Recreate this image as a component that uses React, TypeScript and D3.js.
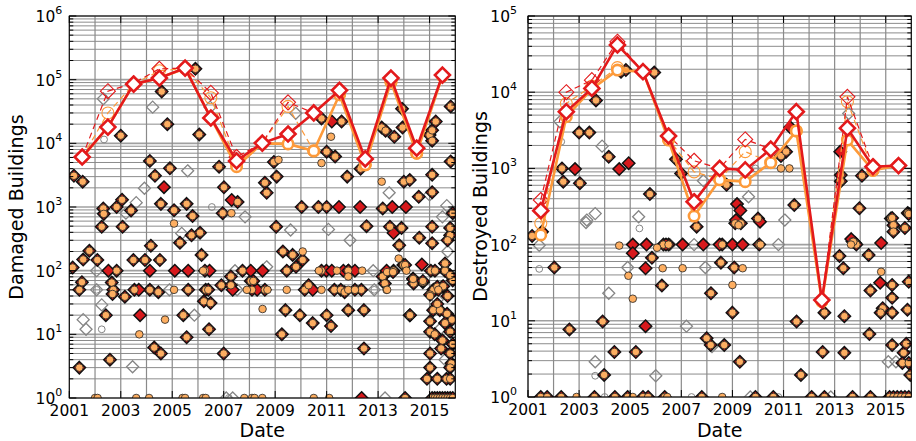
import React from 'react';
import * as d3 from 'd3';

// --- shared ---
const lineYears = [2001.5, 2002.5, 2003.5, 2004.5, 2005.5, 2006.5, 2007.5, 2008.5, 2009.5, 2010.5, 2011.5, 2012.5, 2013.5, 2014.5, 2015.5];
const xLabelYears = [2001, 2003, 2005, 2007, 2009, 2011, 2013, 2015];

// --- damaged buildings (left) ---
const damagedRedLine = [6100, 18000, 85000, 106000, 152000, 25000, 5300, 10100, 14000, 30000, 68000, 5700, 106000, 8400, 118000];
const damagedOrangeLine = [6000, 18000, 85000, 106000, 150000, 25000, 4300, 10000, 9800, 7600, 58000, 4600, 92000, 7000, 115000];
const damagedRedDash = [6100, 66000, 88000, 148000, 152000, 62000, 6100, 10100, 44000, 30000, 68000, 5700, 106000, 8400, 118000];
const damagedOrangeDash = [6000, 30000, 85000, 138000, 150000, 52000, 4800, 10000, 38000, 7600, 58000, 4600, 92000, 7000, 115000];

const damagedBoth = [
  [2001.18, 3100], [2001.52, 2500], [2002.32, 950], [2002.34, 780], [2002.84, 1000], [2003.0, 13200], [2003.05, 1300], [2003.4, 880],
  [2004.13, 5300], [2004.33, 3100], [2004.59, 65000], [2004.56, 1120], [2004.81, 20000], [2004.91, 4050], [2005.07, 890], [2005.56, 1120],
  [2005.9, 148000], [2006.05, 13800], [2005.79, 720], [2006.82, 4300], [2007.01, 2040], [2007.54, 1200], [2006.96, 800], [2008.6, 2400],
  [2008.67, 1670], [2008.95, 5100], [2009.06, 3000], [2010.03, 1000], [2010.68, 1000], [2010.8, 24600], [2011.0, 7400], [2011.0, 1000],
  [2011.33, 6200], [2011.58, 22000], [2011.8, 3000], [2012.32, 4000], [2013.18, 950], [2013.14, 17700], [2013.29, 15800], [2013.63, 12700],
  [2013.93, 35000], [2013.95, 17700], [2014.0, 2500], [2014.23, 2650], [2014.58, 1450], [2015.1, 3200], [2015.1, 1700], [2015.0, 13500],
  [2015.1, 16000], [2015.1, 11000], [2015.24, 22000], [2015.82, 38000], [2015.82, 5200], [2015.9, 800],
  [2001.13, 112], [2001.39, 50], [2001.49, 66], [2001.39, 3], [2001.54, 150], [2001.78, 205], [2002.09, 147], [2002.26, 490],
  [2002.42, 20], [2002.58, 4], [2002.65, 65], [2002.71, 50], [2002.84, 100], [2002.68, 43], [2003.07, 490], [2003.16, 39],
  [2003.49, 147], [2003.53, 50], [2003.94, 147], [2004.17, 247], [2004.13, 50], [2004.3, 6.2], [2004.56, 5], [2004.52, 147],
  [2004.46, 46], [2005.3, 275], [2005.43, 20], [2005.56, 9], [2005.62, 50], [2005.75, 360], [2006.08, 395], [2006.14, 177],
  [2006.23, 33], [2006.27, 100], [2006.3, 50], [2006.43, 12], [2006.49, 31], [2006.4, 50], [2006.91, 59], [2007.0, 5],
  [2007.28, 81], [2007.28, 59], [2007.73, 100], [2008.05, 69], [2008.15, 69], [2008.1, 50], [2008.6, 50], [2009.04, 490],
  [2009.26, 10], [2009.3, 200], [2009.4, 24], [2009.45, 100], [2009.68, 177], [2009.81, 115], [2009.96, 20], [2010.07, 147],
  [2010.15, 50], [2010.3, 59], [2010.46, 15], [2010.8, 100], [2011.0, 20], [2011.17, 13.5], [2011.3, 50], [2011.55, 50],
  [2011.7, 46], [2011.84, 24], [2011.84, 100], [2012.1, 50], [2012.35, 50], [2012.45, 6], [2012.45, 24], [2012.55, 500],
  [2013.18, 81], [2013.26, 63], [2013.46, 490], [2013.6, 100], [2013.91, 470], [2013.82, 250], [2013.98, 123], [2014.23, 20],
  [2014.36, 75], [2014.38, 63], [2014.6, 330], [2014.74, 66], [2015.1, 270], [2015.1, 490], [2015.05, 100], [2015.15, 50],
  [2015.3, 56], [2015.5, 56], [2015.6, 100], [2015.6, 130], [2015.8, 470], [2015.8, 360], [2015.7, 300], [2015.9, 70],
  [2015.02, 42], [2015.14, 24], [2015.4, 24], [2015.68, 21], [2015.87, 17], [2015.02, 16], [2015.02, 11], [2015.2, 10],
  [2015.8, 11], [2015.02, 5], [2015.8, 5], [2015.85, 3.5], [2015.02, 3], [2015.8, 3], [2014.9, 2], [2015.3, 2],
  [2015.66, 2], [2015.8, 2], [2015.21, 100], [2015.8, 85], [2015.53, 57], [2015.34, 50], [2014.05, 123], [2013.35, 95],
  [2013.58, 95], [2014.36, 74], [2014.74, 69], [2014.24, 20], [2015.5, 8], [2015.6, 15], [2015.3, 30], [2015.7, 40],
  [2015.45, 6], [2015.9, 7], [2015.1, 1], [2015.2, 1], [2015.3, 1], [2015.4, 1], [2015.5, 1], [2015.6, 1], [2015.7, 1],
  [2015.8, 1], [2015.9, 1], [2014.05, 1],
];
const damagedRedOnly = [
  [2004.68, 2050], [2007.31, 1290], [2011.2, 22000], [2011.48, 1000], [2012.3, 1000], [2013.55, 1000], [2014.08, 1000],
  [2002.52, 100], [2003.75, 20], [2003.7, 50], [2004.13, 100], [2005.1, 100], [2005.62, 100], [2006.45, 100], [2007.35, 50],
  [2008.05, 100], [2008.3, 50], [2008.51, 100], [2010.46, 50], [2010.99, 100], [2011.2, 100], [2011.65, 100], [2011.85, 100],
  [2012.1, 100], [2013.33, 100], [2013.6, 390], [2014.7, 125], [2012.36, 1],
];
const damagedOrangeOnly = [
  [2009.13, 5500], [2010.8, 4900], [2011.17, 12700], [2013.14, 2500], [2007.3, 800], [2003.72, 10], [2004.72, 17], [2005.07, 550],
  [2005.07, 50], [2007.9, 50], [2008.51, 25], [2009.45, 50], [2010.07, 200], [2010.8, 50], [2011.4, 100], [2011.84, 81],
  [2011.84, 50], [2012.1, 50], [2012.38, 100], [2013.33, 50], [2013.8, 155], [2014.1, 100], [2015.02, 40], [2013.35, 50],
  [2002.0, 1], [2002.1, 1], [2003.6, 1], [2004.1, 1], [2005.4, 1], [2005.5, 1], [2006.2, 1], [2006.3, 1], [2007.8, 1],
  [2008.1, 1], [2008.2, 1], [2008.5, 1], [2010.5, 1], [2011.1, 1], [2006.2, 100], [2008.7, 50], [2010.7, 100],
];
const damagedGrayDiamond = [
  [2002.32, 50000], [2004.24, 37000], [2005.6, 3700], [2006.47, 37000], [2009.8, 29600], [2003.2, 800], [2003.6, 1170],
  [2003.92, 1970], [2007.83, 700], [2013.43, 1670], [2015.0, 1550], [2015.67, 1050], [2015.5, 700], [2002.06, 100],
  [2001.54, 17], [2001.65, 12], [2002.26, 29], [2003.46, 3.1], [2004.89, 50], [2005.37, 385], [2005.86, 20], [2007.44, 100],
  [2007.52, 50], [2008.67, 115], [2009.6, 435], [2011.07, 445], [2011.91, 300], [2012.81, 100], [2013.27, 1], [2015.3, 35],
  [2015.7, 200], [2015.5, 8], [2015.6, 4], [2015.4, 12], [2007.1, 1], [2007.35, 1], [2002.06, 50], [2012.85, 50],
];
const damagedGrayCircle = [
  [2002.35, 11500], [2006.54, 1000], [2002.06, 50], [2002.26, 12], [2012.85, 50], [2007.2, 1],
];

// --- destroyed buildings (right) ---
const destroyedRedLine = [279, 5560, 11200, 41700, 18600, 2660, 365, 1000, 955, 1790, 5560, 18.7, 3370, 1050, 1090];
const destroyedOrangeLine = [134, 4770, 11000, 19500, 18600, 2350, 237, 707, 670, 1190, 3100, 18, 2350, 940, 1090];
const destroyedRedDash = [385, 10000, 14400, 46000, 18600, 2700, 1260, 1000, 2400, 1800, 5560, 18.7, 8700, 1050, 1090];
const destroyedOrangeDash = [190, 7100, 12000, 21000, 18600, 2400, 900, 720, 1660, 1200, 3100, 18, 7500, 950, 1090];

const destroyedBoth = [
  [2002.33, 1000], [2002.38, 670], [2003.0, 2950], [2003.4, 2950], [2003.03, 640], [2003.66, 7800], [2004.16, 1420],
  [2004.64, 18600], [2004.83, 19500], [2005.94, 18100], [2005.77, 460], [2006.79, 1320], [2006.99, 860], [2008.77, 610],
  [2010.0, 220], [2010.9, 1450], [2011.1, 1660], [2011.42, 330], [2013.24, 820], [2013.24, 680], [2014.07, 800],
  [2013.97, 300], [2015.2, 220], [2015.86, 260], [2015.25, 224], [2015.9, 252], [2015.3, 180], [2015.3, 148], [2015.75, 165],
  [2013.7, 110], [2013.8, 105], [2013.85, 100],
  [2001.16, 130], [2002.03, 50], [2002.62, 7.7], [2003.92, 9.8], [2003.98, 1.95], [2004.38, 3.9], [2005.22, 3.9],
  [2005.85, 67], [2006.24, 29], [2006.3, 100], [2006.5, 100], [2007.6, 172], [2008.16, 23], [2007.99, 5.9], [2008.15, 4.8],
  [2008.68, 4.8], [2008.6, 100], [2008.55, 58], [2009.07, 50], [2009.0, 12.8], [2009.11, 190], [2009.33, 190],
  [2009.29, 2.9], [2010.05, 100], [2011.51, 9.8], [2011.68, 1.95], [2012.6, 12.8], [2012.53, 3.9], [2013.19, 71],
  [2013.34, 49], [2013.38, 11.5], [2013.38, 3.8], [2014.33, 73], [2014.4, 25], [2014.36, 6.7], [2014.88, 14.6],
  [2014.8, 12.8], [2015.25, 29.5], [2015.25, 20], [2015.25, 12.8], [2015.25, 4.8], [2015.9, 32.5], [2015.85, 14],
  [2015.7, 3.8], [2015.65, 2.8], [2015.8, 5], [2015.9, 2.8], [2015.96, 1.95],
  [2001.5, 1], [2001.75, 1], [2002.3, 1], [2003.6, 1], [2004.4, 1], [2004.9, 1], [2005.5, 1], [2005.7, 1], [2006.35, 1],
  [2007.8, 1], [2009.9, 1], [2010.6, 1], [2012.1, 1], [2012.6, 1], [2013.7, 1], [2014.4, 1], [2015.15, 1], [2015.3, 1],
  [2015.45, 1], [2015.6, 1], [2015.75, 1], [2015.9, 1],
];
const destroyedRedOnly = [
  [2002.84, 980], [2004.57, 980], [2004.94, 1170], [2009.18, 340], [2009.31, 280], [2011.26, 3470], [2013.22, 1660],
  [2009.14, 210], [2010.08, 200], [2001.55, 148], [2005.1, 100], [2005.1, 77], [2005.6, 49], [2005.6, 8.5], [2005.64, 100],
  [2006.4, 100], [2007.05, 100], [2007.86, 100], [2008.5, 100], [2009.0, 100], [2009.4, 100], [2013.65, 118],
  [2014.82, 105], [2014.78, 31.5],
];
const destroyedOrangeOnly = [
  [2010.9, 1000], [2011.23, 1000], [2004.57, 97], [2004.93, 39], [2005.1, 19.5], [2006.05, 91], [2006.27, 49], [2007.05, 49],
  [2009.0, 29.5], [2009.24, 180], [2009.4, 49], [2010.1, 100], [2013.73, 109], [2013.64, 100], [2014.82, 44],
  [2002.9, 1], [2005.1, 1], [2006.45, 1], [2008.6, 1],
];
const destroyedGrayDiamond = [
  [2002.25, 4100], [2003.9, 1960], [2007.86, 690], [2009.63, 425], [2013.55, 5250], [2005.33, 232], [2003.63, 255],
  [2003.3, 210], [2001.44, 98], [2003.27, 195], [2003.63, 2.9], [2004.16, 23], [2004.9, 50], [2006.0, 1.9], [2006.55, 100],
  [2007.5, 100], [2007.2, 8.5], [2007.94, 50], [2008.2, 4.6], [2010.8, 100], [2015.1, 2.9], [2015.4, 2.9], [2012.85, 1],
  [2009.7, 1], [2011.05, 210],
];
const destroyedGrayCircle = [
  [2002.3, 2240], [2009.9, 1000], [2001.44, 48], [2003.63, 1.9], [2005.36, 163], [2004.0, 1], [2007.4, 1], [2010.8, 1],
];

const RED = '#e31a1c';
const RED_FILL = '#d7191c';
const ORANGE_FILL = '#fdae61';
const ORANGE_LINE = '#fd9a3a';
const GRAY = '#858585';
const FONT = 'DejaVu Sans, sans-serif';

const diamond = (s) => `M0,${-s}L${s},0L0,${s}L${-s},0Z`;

function Panel(props) {
  const { id, x0, x1, y0, y1, maxExp, yLabel, labelX, tickPad, data } = props;
  const x = d3.scaleLinear().domain([2001, 2016]).range([x0, x1]);
  const y = d3.scaleLog().domain([1, Math.pow(10, maxExp)]).range([y1, y0]);

  const yTicks = y.ticks();
  const isMajor = (v) => Math.abs(Math.log10(v) - Math.round(Math.log10(v))) < 1e-6;
  const yMajor = yTicks.filter(isMajor);
  const yMinor = yTicks.filter((v) => !isMajor(v));
  const xGrid = x.ticks(15);

  const line = d3.line().x((d) => x(d[0])).y((d) => y(d[1]));
  const pts = (vals) => lineYears.map((yr, i) => [yr, vals[i]]);

  const clip = `clip-${id}`;
  return (
    <g>
      <defs>
        <clipPath id={clip}>
          <rect x={x0} y={y0} width={x1 - x0} height={y1 - y0} />
        </clipPath>
      </defs>
      {/* grid */}
      {yMinor.map((v, i) => (
        <line key={'ym' + i} x1={x0} x2={x1} y1={y(v)} y2={y(v)} stroke="#5a5a5a" strokeWidth={0.7} />
      ))}
      {yMajor.map((v, i) => (
        <line key={'yM' + i} x1={x0} x2={x1} y1={y(v)} y2={y(v)} stroke="#a0a0a0" strokeWidth={1.6} />
      ))}
      {xGrid.map((v, i) => (
        <line key={'xg' + i} x1={x(v)} x2={x(v)} y1={y0} y2={y1} stroke="#8a8a8a" strokeWidth={1.2} />
      ))}

      <g clipPath={`url(#${clip})`}>
        {data.grayDiamond.map((d, i) => (
          <path key={'gd' + i} d={diamond(6)} transform={`translate(${x(d[0])},${y(d[1])})`} fill="none" stroke={GRAY} strokeWidth={1.3} />
        ))}
        {data.grayCircle.map((d, i) => (
          <circle key={'gc' + i} cx={x(d[0])} cy={y(d[1])} r={3.4} fill="none" stroke={GRAY} strokeWidth={1} />
        ))}
        {data.both.concat(data.redOnly).map((d, i) => (
          <path key={'rd' + i} d={diamond(6.2)} transform={`translate(${x(d[0])},${y(d[1])})`} fill={RED_FILL} stroke="#111" strokeWidth={1.5} />
        ))}
        {data.both.concat(data.orangeOnly).map((d, i) => (
          <circle key={'oc' + i} cx={x(d[0])} cy={y(d[1])} r={3.8} fill={ORANGE_FILL} stroke="#222" strokeWidth={0.8} />
        ))}

        {/* dashed series */}
        <path d={line(pts(data.orangeDash))} fill="none" stroke={ORANGE_LINE} strokeWidth={1.2} strokeDasharray="6,4" />
        {pts(data.orangeDash).map((d, i) => (
          <circle key={'odm' + i} cx={x(d[0])} cy={y(d[1])} r={6} fill="none" stroke={ORANGE_LINE} strokeWidth={1.1} />
        ))}
        <path d={line(pts(data.redDash))} fill="none" stroke={RED} strokeWidth={1.2} strokeDasharray="6,4" />
        {pts(data.redDash).map((d, i) => (
          <path key={'rdm' + i} d={diamond(7.5)} transform={`translate(${x(d[0])},${y(d[1])})`} fill="none" stroke={RED} strokeWidth={1.1} />
        ))}

        {/* solid series */}
        <path d={line(pts(data.orangeLine))} fill="none" stroke={ORANGE_LINE} strokeWidth={2.6} />
        {pts(data.orangeLine).map((d, i) => (
          <circle key={'olm' + i} cx={x(d[0])} cy={y(d[1])} r={5.2} fill="#fff" stroke={ORANGE_LINE} strokeWidth={2.6} />
        ))}
        <path d={line(pts(data.redLine))} fill="none" stroke={RED} strokeWidth={2.6} />
        {pts(data.redLine).map((d, i) => (
          <path key={'rlm' + i} d={diamond(7.5)} transform={`translate(${x(d[0])},${y(d[1])})`} fill="#fff" stroke={RED} strokeWidth={2.6} />
        ))}
      </g>

      {/* frame and ticks */}
      <rect x={x0} y={y0} width={x1 - x0} height={y1 - y0} fill="none" stroke="#000" strokeWidth={1} />
      {yMajor.map((v, i) => (
        <g key={'ytM' + i}>
          <line x1={x0} x2={x0 + 7} y1={y(v)} y2={y(v)} stroke="#000" />
          <line x1={x1} x2={x1 - 7} y1={y(v)} y2={y(v)} stroke="#000" />
        </g>
      ))}
      {yMinor.map((v, i) => (
        <g key={'ytm' + i}>
          <line x1={x0} x2={x0 + 4} y1={y(v)} y2={y(v)} stroke="#000" />
          <line x1={x1} x2={x1 - 4} y1={y(v)} y2={y(v)} stroke="#000" />
        </g>
      ))}
      {xLabelYears.map((v, i) => (
        <g key={'xt' + i}>
          <line x1={x(v)} x2={x(v)} y1={y1} y2={y1 - 7} stroke="#000" />
          <line x1={x(v)} x2={x(v)} y1={y0} y2={y0 + 7} stroke="#000" />
          <text x={x(v)} y={y1 + 18} textAnchor="middle" fontSize={15.5} fontFamily={FONT} fill="#000">{v}</text>
        </g>
      ))}
      {yMajor.map((v, i) => (
        <text key={'yl' + i} x={x0 - tickPad} y={y(v) + 6} textAnchor="end" fontSize={15.5} fontFamily={FONT} fill="#000">
          10<tspan dy={-8} fontSize={11}>{Math.round(Math.log10(v))}</tspan>
        </text>
      ))}

      <text transform={`translate(${labelX},${(y0 + y1) / 2}) rotate(-90)`} textAnchor="middle" fontSize={19} fontFamily={FONT} fill="#000">{yLabel}</text>
      <text x={(x0 + x1) / 2} y={437} textAnchor="middle" fontSize={19} fontFamily={FONT} fill="#000">Date</text>
    </g>
  );
}

export default function App() {
  const damaged = {
    redLine: damagedRedLine, orangeLine: damagedOrangeLine, redDash: damagedRedDash, orangeDash: damagedOrangeDash,
    both: damagedBoth, redOnly: damagedRedOnly, orangeOnly: damagedOrangeOnly,
    grayDiamond: damagedGrayDiamond, grayCircle: damagedGrayCircle,
  };
  const destroyed = {
    redLine: destroyedRedLine, orangeLine: destroyedOrangeLine, redDash: destroyedRedDash, orangeDash: destroyedOrangeDash,
    both: destroyedBoth, redOnly: destroyedRedOnly, orangeOnly: destroyedOrangeOnly,
    grayDiamond: destroyedGrayDiamond, grayCircle: destroyedGrayCircle,
  };
  return (
    <svg width={916} height={441} style={{ position: 'absolute', left: 0, top: 0, background: '#fff' }}>
      <Panel id="dmg" x0={69.3} x1={455.3} y0={16} y1={398} maxExp={6} yLabel="Damaged Buildings" labelX={23} tickPad={7} data={damaged} />
      <Panel id="dst" x0={528} x1={911.3} y0={16} y1={397} maxExp={5} yLabel="Destroyed Buildings" labelX={487} tickPad={11} data={destroyed} />
    </svg>
  );
}
